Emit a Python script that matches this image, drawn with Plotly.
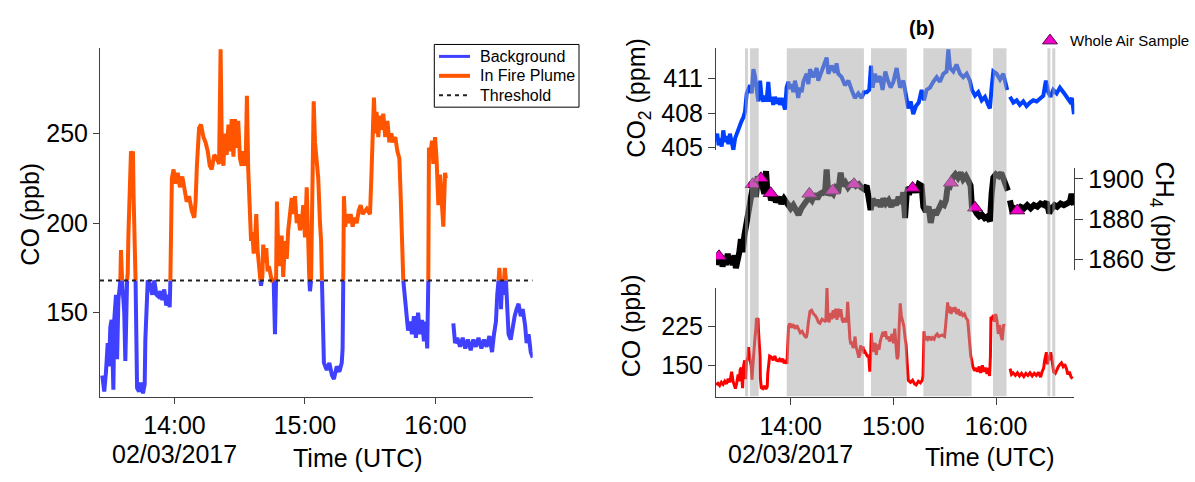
import pandas as pd
import plotly.graph_objects as go

W, H = 1195, 482
BASE = pd.Timestamp("2017-02-03 13:00:00")
THRESHOLD = 168
LEFT_START = 26.8  # minutes after 13:00 where left panel record begins

# ---------------- data (minutes after 13:00 UTC) ----------------
CO_MIN = [16.4, 17.5, 18.5, 19.5, 20.5, 21.5, 22.5, 23.5, 24.5, 25.5, 26.3, 26.8, 27.7, 28.5, 29.3, 29.9,
          30.5, 31.1, 31.6, 31.9, 32.3, 33.1, 33.6, 34.2, 34.8, 35.1, 35.4, 35.9, 36.3, 36.9, 37.4, 37.9,
          38.2, 38.5, 38.8, 39.2, 39.7, 40.0, 40.5, 40.9, 41.2, 41.5, 41.8, 42.1, 42.3, 42.8, 43.7, 44.6,
          45.5, 46.3, 46.6, 47.1, 47.7, 48.7, 49.8, 50.7, 51.7, 52.6, 53.5, 54.4, 55.3, 56.2, 57.2, 57.8,
          58.1, 58.4, 58.8, 59.6, 60.2, 61.5, 62.5, 63.6, 64.5, 65.6, 66.7, 67.9, 69.1, 69.7, 70.3, 71.3,
          72.2, 73.3, 74.3, 75.3, 76.2, 77.1, 78.3, 79.5, 80.5, 81.2, 81.8, 82.5, 83.2, 84.0, 84.8, 85.5,
          86.3, 87.1, 87.8, 88.6, 89.3, 90.1, 90.9, 91.8, 92.7, 93.3, 93.9, 94.6, 95.2, 95.8, 96.4, 97.0,
          97.6, 98.2, 98.9, 99.5, 99.8, 100.1, 100.4, 100.8, 101.6, 102.2, 102.8, 103.4, 104.1, 104.7,
          105.6, 106.2, 106.7, 107.1, 107.7, 108.5, 109.3, 110.0, 110.8, 111.6, 112.3, 113.1, 113.9,
          114.6, 115.4, 116.2, 116.9, 117.7, 118.5, 119.2, 120.0, 120.8, 121.5, 122.0, 122.3, 122.8,
          123.4, 124.0, 124.6, 125.4, 126.1, 126.9, 127.4, 127.8, 128.3, 128.7, 130.0, 131.2, 132.4,
          133.3, 134.6, 135.8, 136.9, 137.3, 137.6, 137.9, 138.5, 139.2, 140.1, 141.0, 141.9, 142.8,
          143.8, 144.7, 145.6, 146.5, 148.4, 149.9, 150.5, 151.1, 151.7, 152.3, 152.9, 153.7, 154.5,
          155.3, 156.0, 156.9, 157.9, 158.8, 159.7, 160.6, 161.5, 162.5, 163.4, 164.0, 164.6, 165.2,
          165.8, 166.4, 167.4, 168.3, 169.2, 170.1, 171.0, 172.0, 172.9, 173.8, 174.7, 175.6, 176.2,
          176.7, 177.0, 177.8, 178.4, 179.0, 179.8, 180.5, 181.3, 182.1, 182.8, 183.6, 184.4, 184.8,
          186.5, 188.2, 189.0, 190.0, 191.3, 192.5, 193.7, 194.9, 196.2, 197.4, 198.6, 199.8, 201.1,
          202.3, 203.5, 204.8, 206.0, 206.9, 207.8, 208.4, 209.0, 209.4, 209.7, 210.1, 210.6, 211.0,
          211.5, 211.9, 212.4, 212.9, 213.6, 214.6, 215.5, 216.4, 217.3, 218.2, 219.2, 220.1, 221.2,
          221.9, 222.8, 223.8, 224.7]
CO_PPB = [113, 116, 112, 118, 114, 120, 115, 125, 118, 138, 120, 115, 106, 117, 133, 120,
          142, 146, 125, 107, 146, 160, 124, 157, 164, 168, 185, 168, 160, 150, 123, 150,
          168, 172, 193, 205, 222, 240, 238, 240, 215, 200, 185, 168, 125, 108, 106, 111,
          105, 110, 135, 152, 168, 166, 160, 168, 160, 159, 162, 157, 163, 154, 160, 153,
          168, 200, 225, 230, 222, 228, 220, 226, 218, 212, 215, 207, 203, 212, 232, 253,
          255, 248, 245, 240, 232, 230, 238, 236, 233, 297, 240, 232, 250, 238, 255, 240,
          258, 237, 258, 242, 257, 236, 232, 240, 232, 271, 230, 200, 190, 195, 183, 190,
          205, 185, 178, 168, 165, 168, 170, 188, 178, 186, 173, 176, 170, 168,
          168, 138, 168, 212, 185, 176, 193, 170, 190, 180, 196, 205, 214,
          205, 215, 200, 205, 196, 200, 210, 192, 220, 178, 168, 162, 168,
          225, 268, 245, 230, 225, 200, 190, 168, 140, 122, 118, 122, 115,
          113, 120, 117, 122, 130, 168, 215, 198, 205, 200, 205, 198, 203,
          200, 207, 210, 205, 208, 205, 225, 250, 270, 250, 262, 248, 260,
          252, 261, 248, 257, 245, 250, 245, 248, 240, 236, 215, 190, 168,
          160, 148, 140, 145, 138, 148, 136, 150, 138, 146, 134, 145, 130,
          168, 242, 240, 246, 233, 248, 236, 210, 227, 208, 198, 228, 225,
          None, 144, 133, 136, 131, 136, 130, 135, 129, 135, 131, 136, 130,
          135, 131, 137, 128, 138, 145, 160, 168, 175, 168, 152, 165, 160,
          168, 175, 168, 150, 138, 135, 142, 148, 152, 155, 148, 152, 143,
          133, 138, 128, 125]

CO2_MIN = [16.4, 17.1, 17.9, 18.7, 19.7, 20.6, 21.6, 22.6, 23.6, 24.5, 25.5, 26.5, 27.5, 28.4, 29.4,
           30.4, 31.3, 32.3, 33.3, 34.3, 35.2, 36.2, 37.2, 38.2, 39.1, 40.1, 41.1, 42.1, 43.0, 44.0,
           45.0, 45.9, 46.9, 47.9, 48.9, 49.8, 50.8, 51.8, 52.8, 53.7, 54.7, 55.7, 56.7, 57.6, 58.6,
           59.6, 60.6, 61.5, 62.5, 63.5, 64.4, 65.4, 66.4, 67.4, 69.3, 70.3, 71.3, 73.2, 75.2, 76.1,
           78.1, 80.0, 81.0, 82.0, 83.9, 85.9, 86.8, 87.8, 89.8, 91.7, 93.7, 95.6, 97.5, 99.5, 101.4,
           102.8, 104.4, 105.9, 106.9, 107.9, 109.2, 110.6, 112.1, 113.7, 115.3, 116.8, 118.4, 120.0,
           121.9, 123.9, 125.8, 127.4, 128.7, 130.1, 131.6, 133.2, 134.8, 136.5, 137.9, 139.4, 141.4,
           143.3, 145.3, 147.2, 149.2, 151.1, 152.1, 153.1, 155.0, 156.9, 158.9, 160.8, 162.8, 164.7,
           165.9, 167.7, 169.6, 171.6, 173.5, 175.4, 176.4, 177.4, 178.4, 180.3, 182.3, 184.2, 185.8,
           186.5, 187.3, 188.1, 190.1, 192.0, 193.9, 195.9, 197.8, 199.8, 201.7, 203.7, 205.6, 207.6,
           209.1, 210.5, 211.9, 213.4, 215.4, 217.3, 219.3, 221.2, 223.1, 224.3, 225.5]
CO2_PPM = [405.9, 406.2, 405.2, 405.8, 405.1, 406.5, 405.5, 406.0, 405.3, 406.2, 405.5, 404.8, 405.8, 406.2, 406.6,
           406.9, 407.3, 407.6, 408.1, 409.7, 410.0, 410.4, 409.7, 411.8, 411.2, 409.7, 409.0, 410.8, 409.4, 409.0,
           409.5, 409.0, 410.7, 409.0, 409.4, 408.7, 409.4, 408.8, 409.3, 408.7, 409.3, 408.8, 408.3, 410.2, 410.7,
           410.1, 410.5, 409.8, 410.8, 410.1, 409.3, 410.2, 409.8, 410.7, 411.4, 410.5, 411.8, 411.1, 411.9, 410.8,
           411.6, 412.2, 412.8, 411.4, 412.1, 411.5, 412.3, 411.4, 411.1, 410.4, 410.8, 410.0, 409.3, 409.7, 409.3,
           409.8, 409.8, 410.0, 412.1, 410.2, 411.4, 410.7, 411.2, 410.0, 411.6, 410.8, 410.2, 410.7,
           411.9, 410.2, 410.8, 409.5, 408.4, 409.0, 407.9, 408.6, 408.9, 410.0, 409.1, 410.0, 410.2,
           410.7, 411.1, 410.7, 411.4, 411.6, 413.5, 411.9, 411.6, 412.2, 411.4, 411.1, 411.4, 410.8,
           410.0, 409.5, 409.8, 409.1, 409.4, 408.7, 408.4, 410.2, 411.6, 411.4, 410.9, 411.4, 410.1,
           410.0, None, 409.4, 408.9, 409.1, 408.7, 409.0, 408.6, 408.9, 409.1, 409.0, 409.3, 409.5,
           410.8, 409.8, 409.4, 410.0, 409.7, 410.2, 409.8, 409.4, 409.0, 409.3, 407.9]

CH4_MIN = [16.4, 17.3, 18.3, 19.3, 20.2, 21.2, 22.2, 23.2, 24.1, 25.1, 26.1, 27.1, 28.0, 29.0, 30.0,
           30.9, 31.9, 32.9, 33.9, 34.9, 35.8, 36.8, 37.8, 38.7, 39.7, 40.7, 41.7, 42.6, 43.6, 44.6,
           45.6, 46.5, 47.5, 48.5, 49.8, 51.4, 53.0, 54.5, 56.1, 57.2, 58.6, 60.0, 61.5, 63.1, 64.6,
           66.2, 67.8, 69.3, 70.9, 72.4, 74.0, 75.5, 77.1, 78.7, 80.0, 81.0, 82.0, 83.3, 84.9, 86.4,
           88.0, 89.2, 90.3, 91.9, 93.5, 95.0, 96.6, 98.1, 99.7, 101.2, 102.8, 104.4, 105.5, 106.7,
           107.9, 109.4, 111.0, 112.5, 114.1, 115.6, 117.2, 118.8, 120.0, 121.5, 123.1, 124.6, 125.8,
           126.8, 127.7, 128.7, 130.1, 131.6, 133.2, 134.8, 136.5, 137.5, 139.0, 140.6, 141.8, 143.3,
           144.9, 146.4, 148.0, 149.6, 150.7, 151.9, 153.1, 154.6, 156.2, 157.7, 159.3, 160.8, 162.4,
           163.9, 165.1, 165.9, 167.1, 168.6, 170.2, 171.7, 173.3, 174.9, 176.4, 177.4, 178.4, 179.9,
           181.5, 183.0, 184.6, 186.2, 186.9, 187.5, 188.1, 189.3, 190.8, 192.4, 194.3, 196.3, 198.2,
           200.2, 202.1, 204.1, 206.0, 208.0, 209.5, 211.1, 212.6, 214.2, 215.7, 217.7, 219.6, 221.6,
           223.1, 224.1, 225.5]
CH4_PPB = [1857.3, 1861.3, 1858.9, 1862.1, 1856.5, 1860.5, 1857.3, 1862.9, 1858.1, 1860.5, 1857.3, 1862.1, 1855.7, 1858.9, 1863.7,
           1870.1, 1863.7, 1871.7, 1876.6, 1881.4, 1886.2, 1893.4, 1895.8, 1897.4, 1891.0, 1901.4, 1896.6, 1899.8, 1894.2, 1892.6,
           1903.9, 1891.8, 1894.2, 1889.4, 1891.8, 1888.6, 1891.0, 1887.8, 1890.2, 1888.6, 1887.0, 1885.4, 1887.0, 1883.8, 1882.2,
           1885.4, 1887.8, 1889.4, 1891.0, 1889.4, 1892.6, 1890.2, 1892.6, 1893.4, 1892.6, 1904.7, 1891.8, 1894.2, 1892.6, 1895.8,
           1895.0, 1903.1, 1896.6, 1898.2, 1895.8, 1897.4, 1898.2, 1896.6, 1897.4, 1895.8, 1895.0, 1896.6, 1887.8, 1884.6,
           1890.2, 1887.0, 1889.4, 1886.2, 1890.2, 1887.8, 1889.4, 1886.2, 1889.4, 1887.0, 1891.0, 1887.8, 1893.4,
           1880.6, 1891.8, 1895.8, 1894.2, 1896.6, 1893.4, 1897.4, 1896.6, 1886.2, 1883.8, 1886.2, 1878.2, 1884.6,
           1882.2, 1885.4, 1887.8, 1887.0, 1889.4, 1897.4, 1896.6, 1900.6, 1902.3, 1900.6, 1903.1, 1899.8, 1901.4,
           1899.0, 1896.6, 1886.2, 1885.4, 1883.0, 1881.4, 1882.2, 1880.6, 1881.4, 1879.0, 1892.6, 1900.6, 1902.3,
           1901.4, 1903.1, 1899.8, 1895.8, 1894.2, None, 1889.4, 1884.6, 1885.4, 1884.6, 1886.2, 1885.4, 1887.0,
           1885.4, 1887.0, 1886.2, 1887.8, 1887.0, 1888.6, 1883.0, 1885.4, 1887.0, 1886.2, 1887.8, 1887.0, 1887.8,
           1888.6, 1892.6, 1887.0]

# Whole Air Samples (time, CH4)
WAS_MIN = [18.1, 37.8, 42.6, 48.3, 70.9, 84.5, 97.0, 131.2, 153.6, 167.7, 192.4]
WAS_CH4 = [1861.6, 1897.4, 1900.3, 1892.9, 1892.6, 1894.2, 1897.4, 1895.5, 1898.1, 1885.7, 1884.3]

# In-plume periods (shaded), minutes after 13:00
PLUME_START = [33.3, 36.2, 57.7, 106.9, 137.5, 178.2, 210.0, 212.8]
PLUME_END = [35.1, 41.3, 102.8, 127.8, 165.7, 186.1, 211.7, 214.6]

TICK_TIMES = ["14:00", "15:00", "16:00"]
DATE_LABEL = "02/03/2017"
LEGEND_NAMES = ["Background", "In Fire Plume", "Threshold"]

C_BG, C_PLUME, C_THR = "#4040FF", "#FF5500", "#222222"
W_BG, W_PLUME = 4, 4


def to_time(mins):
    return [BASE + pd.Timedelta(minutes=m) for m in mins]


def split_by_threshold(vals, thr):
    below, above = [], []
    for v in vals:
        if v is None:
            below.append(None)
            above.append(None)
        else:
            below.append(v if v <= thr else None)
            above.append(v if v >= thr else None)
    return below, above


def px_x(p):
    return p / W


def px_y(p):
    return (H - p) / H


FONT = "Arial, 'Liberation Sans', sans-serif"
AX = "#404040"
THR_DASH = "4px,4px"

left_idx = [i for i, m in enumerate(CO_MIN) if m >= LEFT_START]
left_min = [CO_MIN[i] for i in left_idx]
left_vals = [CO_PPB[i] for i in left_idx]
bg_vals, plume_vals = split_by_threshold(left_vals, THRESHOLD)
left_t = to_time(left_min)

fig = go.Figure()

fig.add_trace(go.Scatter(x=left_t, y=bg_vals, mode="lines", name=LEGEND_NAMES[0], showlegend=False,
                         line=dict(color=C_BG, width=W_BG), xaxis="x", yaxis="y", connectgaps=False))
fig.add_trace(go.Scatter(x=left_t, y=plume_vals, mode="lines", name=LEGEND_NAMES[1], showlegend=False,
                         line=dict(color=C_PLUME, width=W_PLUME), xaxis="x", yaxis="y", connectgaps=False))
x_left_range = to_time([25.75, 224.7])
fig.add_trace(go.Scatter(x=x_left_range, y=[THRESHOLD, THRESHOLD], mode="lines", name=LEGEND_NAMES[2],
                         showlegend=False, line=dict(color=C_THR, width=2, dash=THR_DASH),
                         xaxis="x", yaxis="y"))

# right panel
fig.add_trace(go.Scatter(x=to_time(CO2_MIN), y=CO2_PPM, mode="lines", showlegend=False,
                         line=dict(color="#0040FF", width=4), xaxis="x2", yaxis="y2"))
fig.add_trace(go.Scatter(x=to_time(CH4_MIN), y=CH4_PPB, mode="lines", showlegend=False,
                         line=dict(color="#000000", width=6), xaxis="x2", yaxis="y3"))
fig.add_trace(go.Scatter(x=to_time(CO_MIN), y=CO_PPB, mode="lines", showlegend=False,
                         line=dict(color="#FF0000", width=3), xaxis="x2", yaxis="y4"))
fig.add_trace(go.Scatter(x=to_time(WAS_MIN), y=WAS_CH4, mode="markers", name="Whole Air Sample",
                         marker=dict(symbol="triangle-up", size=13, color="#F000C8",
                                     line=dict(color="#5a0048", width=1)),
                         xaxis="x2", yaxis="y3", legend="legend2"))

x_right_range = to_time([16.36, 225.7])
for s, e in zip(PLUME_START, PLUME_END):
    t0, t1 = to_time([s, e])
    fig.add_shape(type="rect", xref="x2", yref="paper", x0=t0, x1=t1,
                  y0=px_y(405.0), y1=px_y(46.7), fillcolor="rgba(168,168,168,0.5)",
                  line=dict(width=0), layer="above")

# left legend box (drawn)
fig.add_shape(type="rect", xref="paper", yref="paper", x0=px_x(434.3), x1=px_x(579),
              y0=px_y(107.3), y1=px_y(42.7), line=dict(color="#000", width=1),
              fillcolor="white", layer="above")
leg_rows = [55, 75, 95]
leg_styles = [dict(color=C_BG, width=3), dict(color=C_PLUME, width=4),
              dict(color=C_THR, width=2, dash=THR_DASH)]
for yy, st, name in zip(leg_rows, leg_styles, LEGEND_NAMES):
    fig.add_shape(type="line", xref="paper", yref="paper", x0=px_x(439), x1=px_x(470),
                  y0=px_y(yy), y1=px_y(yy), line=st, layer="above")
    fig.add_annotation(text=name, x=px_x(478), y=px_y(yy), xref="paper", yref="paper",
                       xanchor="left", yanchor="middle", showarrow=False,
                       font=dict(size=16, family=FONT, color="#000"))

tickvals = [pd.Timestamp(f"2017-02-03 {t}:00") for t in TICK_TIMES]

common_x = dict(type="date", showgrid=False, zeroline=False, showline=True, linecolor=AX,
                linewidth=1, ticks="outside", tickcolor=AX, tickwidth=1,
                tickvals=tickvals, ticktext=TICK_TIMES,
                tickfont=dict(size=25, color="#000", family=FONT))
common_y = dict(showgrid=False, zeroline=False, showline=True, linecolor=AX, linewidth=1,
                ticks="outside", tickcolor=AX, tickwidth=1,
                tickfont=dict(size=25, color="#000", family=FONT))

fig.update_layout(
    width=W, height=H, autosize=False,
    margin=dict(l=0, r=0, t=0, b=0, pad=0),
    paper_bgcolor="white", plot_bgcolor="rgba(0,0,0,0)",
    font=dict(family=FONT, color="#000"),
    xaxis=dict(domain=[px_x(100), px_x(532.7)], anchor="y", range=x_left_range, ticklen=6, **common_x),
    yaxis=dict(domain=[px_y(405.7), px_y(46.7)], anchor="x", range=[103.0, 297.5],
               tickvals=[150, 200, 250], ticklen=6, **common_y),
    xaxis2=dict(domain=[px_x(716), px_x(1074.3)], anchor="y4", range=x_right_range, ticklen=7, **common_x),
    yaxis2=dict(domain=[px_y(151.7), px_y(46.7)], anchor="x2", range=[404.77, 413.6],
                tickvals=[405, 408, 411], ticklen=7, **common_y),
    yaxis3=dict(domain=[px_y(275), px_y(170)], anchor="x2", side="right", range=[1854.8, 1905.4],
                tickvals=[1860, 1880, 1900], ticklen=8, **common_y),
    yaxis4=dict(domain=[px_y(405.7), px_y(293.3)], anchor="x2", range=[90.2, 297.7],
                tickvals=[150, 225], ticklen=7, **common_y),
    legend2=dict(x=px_x(1030), y=px_y(22), xanchor="left", yanchor="top",
                 bgcolor="rgba(0,0,0,0)", borderwidth=0,
                 font=dict(size=15, family=FONT, color="#000")),
    showlegend=True,
)

ann = dict(showarrow=False, xref="paper", yref="paper", xanchor="center", yanchor="middle")
texts = [
    ("CO (ppb)", 30, 218, -90, 25, False),
    (DATE_LABEL, 174.5, 465, 0, 25, False),
    ("Time (UTC)", 358, 469, 0, 25, False),
    ("(b)", 921.7, 26, 0, 20, True),
    ("CO<sub>2</sub> (ppm)", 638, 98.5, -90, 25, False),
    ("CH<sub>4</sub> (ppb)", 1163, 220, 90, 25, False),
    ("CO (ppb)", 631, 332, -90, 25, False),
    (DATE_LABEL, 790.7, 465, 0, 25, False),
    ("Time (UTC)", 990, 468, 0, 25, False),
]
for txt, x, y, ang, size, bold in texts:
    fig.add_annotation(text=f"<b>{txt}</b>" if bold else txt, x=px_x(x), y=px_y(y), textangle=ang,
                       font=dict(size=size, family=FONT, color="#000"), **ann)

fig.write_html("out.html")
